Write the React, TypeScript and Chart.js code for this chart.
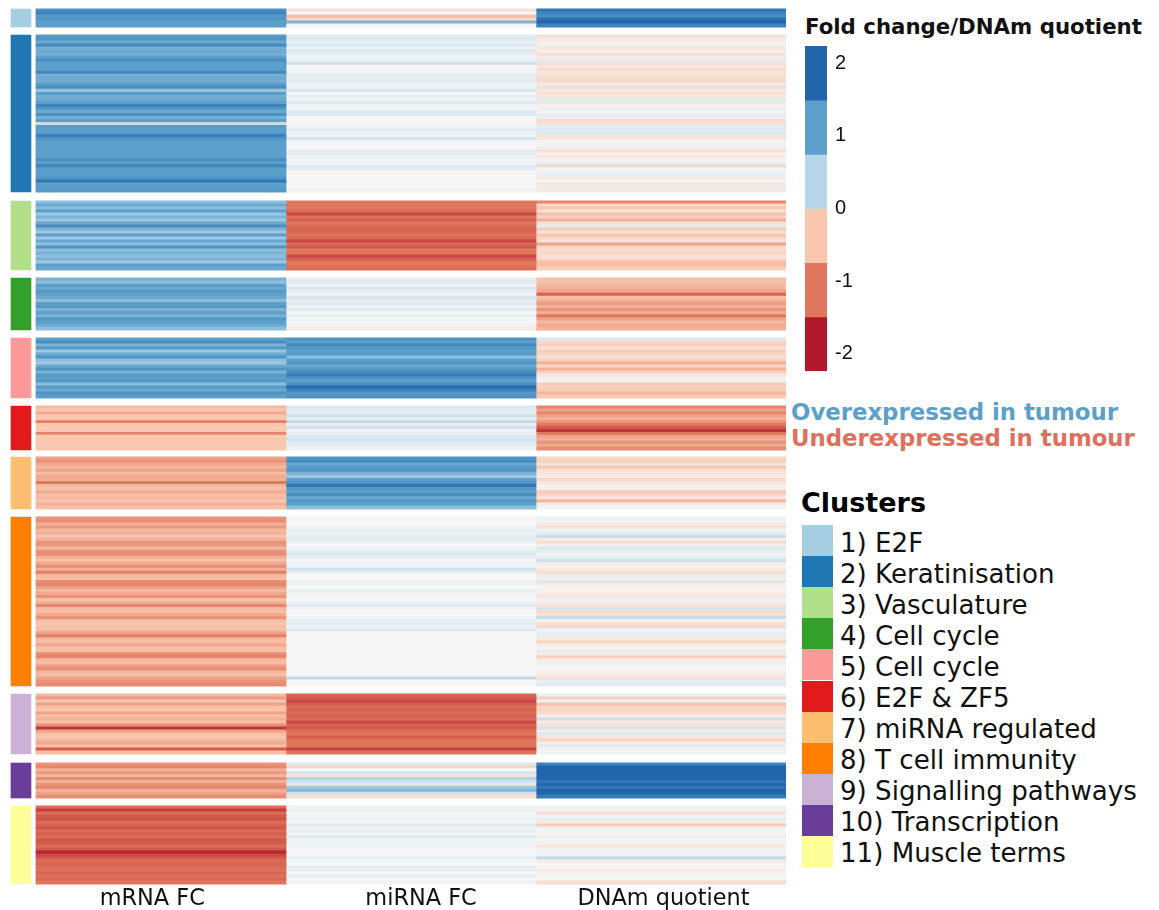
import React, { useEffect, useRef } from "react";
import { Chart, registerables } from "chart.js";

Chart.register(...registerables);

const columnLabels = ["mRNA FC", "miRNA FC", "DNAm quotient"];
const columnLabelTicks = [0.465, 1.54, 2.51];

const clusterNames = ["1) E2F", "2) Keratinisation", "3) Vasculature", "4) Cell cycle", "5) Cell cycle", "6) E2F & ZF5", "7) miRNA regulated", "8) T cell immunity", "9) Signalling pathways", "10) Transcription", "11) Muscle terms"];
const clusterColors = ["#a6cee3", "#1f78b4", "#b2df8a", "#33a02c", "#fb9a99", "#e31a1c", "#fdbf6f", "#ff7f00", "#cab2d6", "#6a3d9a", "#ffff99"];
const clusterSizes = [18, 157, 69, 52, 60, 44, 52, 169, 60, 35, 78];
const clusterGaps = [8, 9, 8, 8, 8, 7, 8, 8, 9, 8];
const firstClusterTop = 9;

const mrna1 = [1.3, 1.5, 1.1, 1.2, 1.0, 1.0];
const mirna1 = [-0.2, 0, -0.5, -0.3, 0.8, 0];
const dnam1 = [1.7, 1.5, 1.3, 1.8, 2.0, 1.5];

const mrna2 = [1.1, 1.2, 0.9, 1.4, 0.85, 0.9, 0.85, 1.0, 1.3, 1.0, 1.0, 1.0, 1.4, 0.85, 0.9, 0.85, 1.05, 1.3, 0.65, 1.0, 0.85, 0.9, 1.0, 1.5, 1.15, 0.9, 1.25, 0.85, 1.0, 0.35, 1.05, 1.0, 1.05, 1.6, 1.15, 1.0, 1.0, 1.0, 1.0, 1.0, 1.0, 1.3, 1.0, 1.5, 1.0, 1.0, 1.05, 1.15, 1.7, 1.0, 1.0, 1.1];
const mirna2 = [0.15, 0.2, 0.1, 0.2, 0.05, 0.2, 0.1, 0.05, 0.1, 0.3, 0, 0, 0.05, 0.15, 0.1, 0.15, 0.05, 0.05, 0.2, 0, 0.1, 0.05, 0.15, 0.05, 0, 0.2, 0.15, 0, 0, 0, 0.05, 0.1, 0.05, 0.05, 0.25, 0, 0, 0, 0.1, 0.1, 0.05, 0.05, 0.05, 0.15, 0.15, 0, 0, 0, 0, 0, 0, 0.05];
const dnam2 = [-0.2, -0.12, -0.08, 0.05, -0.18, -0.08, -0.2, -0.12, 0.15, -0.2, -0.15, -0.25, -0.15, -0.2, -0.25, -0.28, 0.1, -0.25, -0.12, -0.2, -0.15, 0.18, -0.15, -0.08, 0.08, -0.05, 0.1, 0.08, -0.25, -0.2, 0.15, 0.18, 0.2, -0.2, -0.15, 0.02, 0.05, -0.08, -0.2, -0.08, -0.12, -0.03, 0.1, -0.3, 0.05, 0.05, 0.1, -0.12, 0, -0.15, 0.12, -0.12];

const mrna3 = [0.7, 0.9, 0.7, 1.0, 0.6, 0.8, 0.6, 0.9, 1.3, 0.8, 0.6, 1.0, 0.6, 0.9, 0.7, 1.2, 0.7, 0.8, 0.7, 0.8, 0.6, 1.0, 0.9];
const mirna3 = [-1, -1, -1, -1.1, -1.5, -1.05, -1.25, -1, -1.1, -1.2, -1.15, -1, -1.15, -1.5, -1.1, -1.3, -1, -1, -1.5, -1.25, -1, -1, -1.1];
const dnam3 = [-0.9, -0.3, -0.45, -0.2, -0.5, -0.35, -0.6, -0.2, 0.15, -0.4, -0.2, -0.45, -0.3, -0.2, -0.7, -0.3, -0.25, -0.3, -0.2, -0.25, -0.5, -0.5, -0.35];

const mrna4 = [0.8, 0.7, 1.0, 0.9, 1.1, 1.0, 0.9, 0.7, 1.0, 1.1, 0.8, 1.0, 0.8, 1.1, 1.0, 0.9, 0.7];
const mirna4 = [0.1, 0.15, 0.05, 0.2, 0.1, 0.05, 0.2, 0.1, 0.15, 0.05, 0.15, 0, 0.1, 0.05, 0, 0.05, -0.1];
const dnam4 = [-0.5, -0.5, -0.55, -0.6, -0.7, -1.2, -0.5, -0.6, -0.75, -0.6, -0.8, -0.6, -1.0, -0.7, -0.55, -0.65, -0.6];

const mrna5 = [1.0, 1.3, 0.8, 1.1, 0.6, 0.9, 1.2, 0.7, 0.6, 0.9, 1.2, 0.8, 1.1, 1.0, 1.1, 0.7, 1.1, 0.9, 1.2, 1.0];
const mirna5 = [1.2, 1.0, 1.4, 1.1, 1.0, 1.1, 0.7, 1.0, 1.2, 0.9, 1.1, 1.3, 1.6, 1.2, 1.0, 1.3, 1.9, 1.5, 1.1, 1.2];
const dnam5 = [0.2, -0.3, -0.35, -0.2, -0.4, -0.3, -0.2, -0.35, -0.6, -0.3, -0.6, -0.35, -0.15, 0.05, -0.05, -0.4, -0.35, -0.4, -0.55, -0.4];

const mrna6 = [-0.55, -0.45, -0.65, -0.45, -0.45, -0.95, -0.45, -0.4, -0.45, -0.9, -0.4, -0.45, -0.45, -0.4, -0.45];
const mirna6 = [0.2, 0.15, 0.1, 0.3, 0.1, 0.4, 0.1, 0.3, 0.05, 0.1, 0.2, 0.25, 0.15, 0.15, 0.05];
const dnam6 = [-0.9, -0.7, -0.9, -0.7, -0.6, -0.8, -1.0, -1.3, -1.7, -1.0, -0.7, -0.6, -0.8, -0.65, -0.85];

const mrna7 = [-0.7, -0.8, -0.65, -0.55, -0.7, -0.5, -0.65, -0.6, -1.0, -0.55, -0.5, -0.65, -0.5, -0.55, -0.45, -0.6, -0.5];
const mirna7 = [1.2, 1.3, 0.9, 1.1, 1.2, 0.8, 0.6, 1.0, 1.2, 1.7, 1.1, 1.0, 1.3, 0.9, 1.1, 1.0, 0.7];
const dnam7 = [-0.3, -0.35, -0.2, -0.45, -0.2, -0.15, -0.1, -0.3, -0.15, -0.05, -0.1, -0.4, -0.3, -0.15, -0.55, -0.1, 0.05];

const mrna8 = [-0.8, -0.85, -0.6, -0.75, -0.55, -0.6, -0.45, -0.6, -0.8, -0.75, -0.55, -0.8, -0.85, -0.6, -0.5, -0.65, -0.85, -0.6, -0.95, -0.55, -0.5, -0.85, -0.9, -0.7, -0.55, -0.65, -0.8, -0.5, -0.6, -0.9, -0.55, -0.5, -0.65, -0.8, -0.5, -0.45, -0.5, -0.5, -0.7, -0.95, -0.55, -0.5, -0.65, -0.5, -0.5, -0.85, -0.9, -0.55, -0.5, -0.75, -0.85, -0.55, -0.5, -0.7, -0.8, -0.85];
const mirna8 = [0, 0, 0, 0.05, 0.1, 0.05, 0.1, 0.15, 0.05, 0, 0.05, 0.15, 0.2, 0.1, 0, 0.05, 0.05, 0.3, 0.1, 0, 0, 0.05, 0.05, 0, 0.1, 0.05, 0, 0, 0.05, 0.15, 0.05, 0, 0, 0.05, 0.1, 0.15, 0.05, 0.15, 0, 0, 0, 0, 0, 0, 0, 0, 0, 0, 0, 0, 0, 0, 0, 0.4, 0, 0];
const dnam8 = [0.08, 0.05, -0.1, -0.2, 0.05, 0.1, 0.35, -0.1, -0.25, -0.05, 0.2, 0.1, 0.05, 0.1, 0.3, -0.1, -0.05, -0.1, -0.25, 0.1, -0.1, 0.2, -0.1, -0.05, -0.05, -0.1, -0.15, 0.05, -0.1, -0.2, 0.25, -0.25, -0.2, 0.35, -0.05, -0.2, -0.3, 0.05, 0.1, 0.1, -0.15, -0.3, -0.1, -0.05, 0.1, -0.1, -0.35, -0.1, 0.1, 0, -0.05, -0.05, -0.1, -0.2, 0.1, 0.15];

const mrna9 = [-0.55, -0.75, -0.45, -0.7, -0.5, -0.45, -0.7, -0.5, -0.6, -0.5, -0.8, -1.7, -0.7, -0.5, -0.45, -0.55, -0.65, -0.5, -1.3, -0.5];
const mirna9 = [-1.2, -1.3, -1.5, -1.3, -1.1, -1.2, -1.1, -1.2, -1.1, -1.5, -1.2, -1.3, -1.1, -1.0, -1.3, -1.0, -1.0, -1.0, -1.6, -1.0];
const dnam9 = [0.08, -0.35, 0.05, -0.5, -0.3, -0.3, -0.25, -0.1, 0.3, -0.1, -0.2, 0.25, -0.1, 0.2, -0.15, -0.3, -0.1, 0.15, -0.05, 0.05];

const mrna10 = [-0.8, -0.9, -0.6, -0.75, -0.55, -0.85, -0.6, -0.8, -0.9, -0.6, -0.7, -0.85];
const mirna10 = [0.2, -0.3, 0, 0.25, -0.2, 0.5, 0.3, -0.15, 0.6, 0.75, 0.3, -0.2];
const dnam10 = [1.5, 2.0, 2.1, 2.0, 2.0, 2.0, 1.7, 2.0, 1.7, 2.0, 2.0, 1.6];

const mrna11 = [-1.1, -1.6, -1.1, -1.3, -1.4, -1.1, -1.2, -1.35, -1.1, -1.25, -1.1, -1.35, -1.3, -1.1, -1.3, -1.9, -1.5, -1.3, -1.1, -1.2, -1.1, -1.05, -1.2, -1.05, -1.15, -1.0];
const mirna11 = [0.05, 0.1, 0, 0.05, 0.05, 0.05, 0.15, 0.05, 0.1, 0.05, 0.15, 0.05, 0.05, 0.05, 0, 0, 0, 0.1, 0.05, 0, 0.15, 0.1, 0, 0.1, 0, 0.05];
const dnam11 = [0.05, -0.05, -0.2, 0.05, 0.1, -0.1, -0.4, 0.05, 0.02, -0.05, 0.1, 0, -0.05, -0.15, -0.05, 0.05, -0.05, 0.4, -0.1, -0.02, -0.05, -0.1, -0.05, 0.02, 0, -0.25];

const clusterRows = [
  [mrna1, mirna1, dnam1], [mrna2, mirna2, dnam2], [mrna3, mirna3, dnam3], [mrna4, mirna4, dnam4],
  [mrna5, mirna5, dnam5], [mrna6, mirna6, dnam6], [mrna7, mirna7, dnam7], [mrna8, mirna8, dnam8],
  [mrna9, mirna9, dnam9], [mrna10, mirna10, dnam10], [mrna11, mirna11, dnam11],
];

const colorStops: [number, string][] = [[-2, "#b2182b"], [-1, "#e0775c"], [-0.45, "#f9c6ae"], [0, "#f6f6f6"], [0.45, "#b7d7e9"], [1, "#5b9fca"], [2, "#2166ac"]];

const keyEdges = [2.235, 1.49, 0.745, 0, -0.745, -1.49, -2.235];
const keyColors = ["#2166ac", "#5b9fca", "#b7d7e9", "#f9c6ae", "#e0775c", "#b2182b"];
const keyTicks = [2, 1, 0, -1, -2];

const hex = (s: string) => [1, 3, 5].map((i) => parseInt(s.slice(i, i + 2), 16));
function colorOf(v: number) {
  if (v <= colorStops[0][0]) return colorStops[0][1];
  for (let i = 1; i < colorStops.length; i++) {
    if (v <= colorStops[i][0]) {
      const [a, ca] = colorStops[i - 1];
      const [b, cb] = colorStops[i];
      const t = (v - a) / (b - a);
      const A = hex(ca), B = hex(cb);
      return `rgb(${A.map((x, j) => Math.round(x + (B[j] - x) * t)).join(",")})`;
    }
  }
  return colorStops[colorStops.length - 1][1];
}

function buildDatasets() {
  const sets: any[] = [];
  let top = firstClusterTop;
  clusterRows.forEach((columns, c) => {
    const size = clusterSizes[c];
    sets.push({
      data: [{ x: [-0.1, -0.02], y: top + size / 2 }],
      barThickness: size,
      backgroundColor: clusterColors[c],
    });
    columns.forEach((rows, k) => {
      const rowH = size / rows.length;
      const rowTop = top;
      sets.push({
        data: rows.map((_, i) => ({ x: [k, k + 1], y: rowTop + (i + 0.5) * rowH })),
        barThickness: rowH + 0.3,
        backgroundColor: rows.map(colorOf),
      });
    });
    top += size + (clusterGaps[c] ?? 0);
  });
  return sets;
}

const font = "'DejaVu Sans'";

export default function App() {
  const mainRef = useRef<HTMLCanvasElement>(null);
  const keyRef = useRef<HTMLCanvasElement>(null);

  useEffect(() => {
    const main = new Chart(mainRef.current!, {
      type: "bar",
      data: { datasets: buildDatasets() },
      options: {
        indexAxis: "y",
        animation: false,
        responsive: false,
        devicePixelRatio: 1,
        layout: { padding: 0 },
        plugins: { legend: { display: false }, tooltip: { enabled: false }, title: { display: false } },
        datasets: { bar: { grouped: false, borderWidth: 0 } },
        scales: {
          y: { type: "linear", reverse: true, min: 0, max: 885, offset: false, display: false },
          x: {
            type: "linear",
            min: -0.144,
            max: 3,
            grid: { display: false, drawTicks: false },
            border: { display: false },
            afterBuildTicks: (s: any) => { s.ticks = columnLabelTicks.map((value) => ({ value })); },
            afterFit: (s: any) => { s.height = 25; s.paddingLeft = 0; s.paddingRight = 0; },
            ticks: {
              autoSkip: false,
              maxRotation: 0,
              padding: 1,
              color: "#111",
              font: { family: font, size: 22.4 },
              callback: (_: any, i: number) => columnLabels[i],
            },
          },
        },
      } as any,
    });
    const key = new Chart(keyRef.current!, {
      type: "bar",
      data: {
        labels: ["key"],
        datasets: keyColors.map((color, i) => ({
          data: [[keyEdges[i + 1], keyEdges[i]]],
          backgroundColor: color,
        })),
      } as any,
      options: {
        animation: false,
        responsive: false,
        devicePixelRatio: 1,
        layout: { padding: 0 },
        plugins: { legend: { display: false }, tooltip: { enabled: false } },
        datasets: { bar: { grouped: false, borderWidth: 0, categoryPercentage: 1, barPercentage: 1 } },
        scales: {
          x: { display: false },
          y: {
            position: "right",
            min: keyEdges[6],
            max: keyEdges[0],
            grid: { display: false, drawTicks: false },
            border: { display: false },
            afterBuildTicks: (s: any) => { s.ticks = keyTicks.map((value) => ({ value })); },
            afterFit: (s: any) => { s.width = 38; s.paddingTop = 0; s.paddingBottom = 0; },
            ticks: {
              padding: 8,
              color: "#111",
              font: { family: "'Liberation Sans'", size: 20 },
              callback: (v: any) => String(v),
            },
          },
        },
      } as any,
    });
    return () => { main.destroy(); key.destroy(); };
  }, []);

  const abs = (left: number, top: number): React.CSSProperties => ({ position: "absolute", left, top, whiteSpace: "nowrap", fontFamily: font, lineHeight: 1 });

  return (
    <div style={{ position: "absolute", left: 0, top: 0, width: 1159, height: 910, overflow: "hidden", background: "#fff", filter: "blur(0.6px)" }}>
      <canvas ref={mainRef} width={786} height={910} style={{ position: "absolute", left: 0, top: 0 }} />
      <canvas ref={keyRef} width={60} height={325} style={{ position: "absolute", left: 805, top: 46 }} />
      <div style={{ ...abs(805, 16), fontWeight: 700, fontSize: 21.3, color: "#111" }}>Fold change/DNAm quotient</div>
      <div style={{ ...abs(791, 400.5), fontWeight: 700, fontSize: 22.8, color: "#5aa0c8" }}>Overexpressed in tumour</div>
      <div style={{ ...abs(791, 426.5), fontWeight: 700, fontSize: 22.8, color: "#e0705c" }}>Underexpressed in tumour</div>
      <div style={{ ...abs(801, 489), fontWeight: 700, fontSize: 27, color: "#000" }}>Clusters</div>
      {clusterNames.map((name, i) => (
        <React.Fragment key={name}>
          <div style={{ position: "absolute", left: 802, top: 525 + i * 31.1, width: 31, height: 31.1, background: clusterColors[i] }} />
          <div style={{ ...abs(840, 529.5 + i * 31), fontSize: 26.1, color: "#111" }}>{name}</div>
        </React.Fragment>
      ))}
    </div>
  );
}
